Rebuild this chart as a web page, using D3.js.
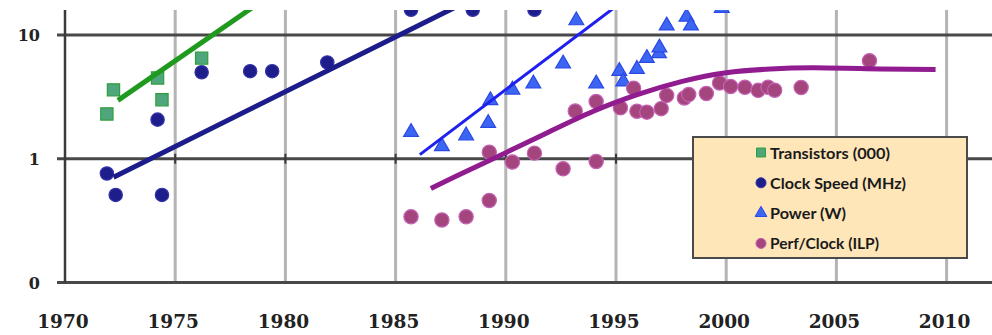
<!DOCTYPE html>
<html>
<head>
<meta charset="utf-8">
<script src="https://cdn.jsdelivr.net/npm/d3@7"></script>
<style>
  body { margin: 0; background: #fff; }
  .x-label { font-family: "DejaVu Serif", serif; font-weight: bold; font-size: 18.5px; fill: #222; }
  .y-label { font-family: "DejaVu Serif", serif; font-weight: bold; font-size: 16px; fill: #222; }
  .legend-text { font-family: Lato, "Open Sans", sans-serif; font-weight: bold; font-size: 16px; fill: #1a1a1a; }
</style>
</head>
<body>
<div id="chart"></div>
<script>
// axis ticks
const yearTicks = [1970, 1975, 1980, 1985, 1990, 1995, 2000, 2005, 2010];
const valueTicks = [0.1, 1, 10];
const valueTickLabels = ['0', '1', '10'];

// Transistors (000)
const transistorYears = [1971.9, 1972.2, 1974.2, 1974.4, 1976.2];
const transistorValues = [2.3, 3.6, 4.5, 3.0, 6.5];

// Clock Speed (MHz)
const clockYears = [1971.9, 1972.3, 1974.2, 1974.4, 1976.2, 1978.4, 1979.4, 1981.9, 1985.7, 1988.5, 1991.3];
const clockValues = [0.76, 0.51, 2.07, 0.51, 5.0, 5.1, 5.1, 6.0, 16, 16, 16];

// Power (W)
const powerYears = [1985.7, 1987.1, 1988.2, 1989.2, 1989.3, 1990.3, 1991.25, 1992.6, 1993.2, 1994.1,
    1995.15, 1995.33, 1995.95, 1996.4, 1996.95, 1996.97, 1997.3, 1998.2, 1998.4, 1999.8];
const powerValues = [1.64, 1.26, 1.54, 1.94, 2.96, 3.61, 4.04, 5.86, 13.1, 4.04,
    5.1, 4.2, 5.3, 6.5, 7.1, 7.9, 11.9, 14, 11.9, 16.5];

// Perf/Clock (ILP)
const perfYears = [1985.7, 1987.1, 1988.2, 1989.25, 1989.25, 1990.3, 1991.3, 1992.6, 1993.15, 1994.1,
    1994.1, 1995.2, 1995.8, 1995.95, 1996.4, 1997.05, 1997.3, 1998.1, 1998.3, 1999.1,
    1999.7, 2000.2, 2000.85, 2001.45, 2001.9, 2002.2, 2003.4, 2006.5];
const perfValues = [0.34, 0.32, 0.34, 0.46, 1.13, 0.94, 1.11, 0.83, 2.43, 0.95,
    2.9, 2.58, 3.72, 2.42, 2.38, 2.54, 3.25, 3.1, 3.3, 3.37,
    4.1, 3.84, 3.78, 3.57, 3.78, 3.58, 3.77, 6.2];

// trend lines
const transistorTrendYears = [1972.4, 1979];
const transistorTrendValues = [2.96, 19.2];
const clockTrendYears = [1972.2, 1988.5];
const clockTrendValues = [0.71, 19.7];
const powerTrendYears = [1986.1, 1995.5];
const powerTrendValues = [1.08, 19.9];
const perfTrendYears = [1986.6, 1988, 1990, 1992, 1994, 1996, 1998, 2000, 2002, 2004, 2007, 2009.5];
const perfTrendValues = [0.575, 0.76, 1.12, 1.66, 2.43, 3.31, 4.22, 4.96, 5.31, 5.43, 5.31, 5.25];

const legendLabels = ['Transistors (000)', 'Clock Speed (MHz)', 'Power (W)', 'Perf/Clock (ILP)'];

const zip = (xs, ys) => xs.map((x, i) => ({year: x, value: ys[i]}));

const width = 992, height = 335;
const margin = {top: 10, right: 0, bottom: 52.5, left: 65};

const svg = d3.select('#chart').append('svg')
    .attr('width', width)
    .attr('height', height);

const x = d3.scaleLinear()
    .domain([1970, 2012])
    .range([margin.left, margin.left + 42 * 22.04]);

// top of plot sits ~0.2 decade above 10
const y = d3.scaleLog()
    .domain([0.1, 15.92])
    .range([height - margin.bottom, margin.top]);

const plotBottom = y(0.1);

svg.append('defs').append('clipPath')
    .attr('id', 'plot-clip')
    .append('rect')
    .attr('x', margin.left)
    .attr('y', margin.top)
    .attr('width', width - margin.left)
    .attr('height', plotBottom - margin.top);

// vertical grid (light)
svg.append('g')
    .selectAll('line')
    .data(yearTicks.slice(1))
    .join('line')
    .attr('x1', d => x(d)).attr('x2', d => x(d))
    .attr('y1', margin.top).attr('y2', plotBottom)
    .attr('stroke', '#b4b4b4')
    .attr('stroke-width', 3);

// horizontal grid (dark), with the little outer tick on the left
svg.append('g')
    .selectAll('line')
    .data(valueTicks)
    .join('line')
    .attr('x1', margin.left - 8).attr('x2', width)
    .attr('y1', d => y(d)).attr('y2', d => y(d))
    .attr('stroke', '#484848')
    .attr('stroke-width', 3);

// left axis line
svg.append('line')
    .attr('x1', margin.left).attr('x2', margin.left)
    .attr('y1', margin.top).attr('y2', plotBottom)
    .attr('stroke', '#3a3a3a')
    .attr('stroke-width', 2.5);

// category axis crosses at 1: small cross ticks
svg.append('g')
    .selectAll('line')
    .data(yearTicks)
    .join('line')
    .attr('x1', d => x(d)).attr('x2', d => x(d))
    .attr('y1', y(1) - 5).attr('y2', y(1) + 5)
    .attr('stroke', '#3a3a3a')
    .attr('stroke-width', 2);

// tick labels
svg.append('g')
    .selectAll('text')
    .data(yearTicks)
    .join('text')
    .attr('class', 'x-label')
    .attr('x', d => x(d) - 2)
    .attr('y', 328)
    .attr('text-anchor', 'middle')
    .text(d => d);

svg.append('g')
    .selectAll('text')
    .data(valueTicks)
    .join('text')
    .attr('class', 'y-label')
    .attr('x', 40)
    .attr('y', d => y(d) + 6)
    .attr('text-anchor', 'end')
    .text((d, i) => valueTickLabels[i]);

const plot = svg.append('g').attr('clip-path', 'url(#plot-clip)');

// markers
const series = [
    {data: zip(transistorYears, transistorValues), shape: d3.symbolSquare, size: 150, fill: '#4fa67c', stroke: '#2f9e3a'},
    {data: zip(clockYears, clockValues), shape: d3.symbolCircle, size: 140, fill: '#1d1d8c', stroke: '#3434a8'},
    {data: zip(powerYears, powerValues), shape: d3.symbolTriangle, size: 95, fill: '#3c66f2', stroke: '#2a48e6'},
    {data: zip(perfYears, perfValues), shape: d3.symbolCircle, size: 160, fill: '#a4457e', stroke: '#c463b6'}
];

series.forEach(s => {
    plot.append('g')
        .selectAll('path')
        .data(s.data)
        .join('path')
        .attr('transform', d => `translate(${x(d.year)},${y(d.value)})`)
        .attr('d', d3.symbol().type(s.shape).size(s.size))
        .attr('fill', s.fill)
        .attr('stroke', s.stroke)
        .attr('stroke-width', 1.2);
});

// trend lines
const trends = [
    {data: zip(transistorTrendYears, transistorTrendValues), color: '#1f9a1f', w: 5, curve: d3.curveLinear},
    {data: zip(clockTrendYears, clockTrendValues), color: '#1c1c8a', w: 5, curve: d3.curveLinear},
    {data: zip(powerTrendYears, powerTrendValues), color: '#2020ee', w: 3, curve: d3.curveLinear},
    {data: zip(perfTrendYears, perfTrendValues), color: '#901c90', w: 5, curve: d3.curveNatural}
];

const line = d3.line().x(d => x(d.year)).y(d => y(d.value));

trends.forEach(t => {
    plot.append('path')
        .datum(t.data)
        .attr('d', line.curve(t.curve))
        .attr('fill', 'none')
        .attr('stroke', t.color)
        .attr('stroke-width', t.w);
});

// legend
const legend = svg.append('g').attr('transform', 'translate(693,137)');
legend.append('rect')
    .attr('width', 274)
    .attr('height', 121)
    .attr('fill', '#fee6b9')
    .attr('stroke', '#4a4a4a')
    .attr('stroke-width', 2);

const legendRows = legend.selectAll('g.row')
    .data(legendLabels)
    .join('g')
    .attr('class', 'row')
    .attr('transform', (d, i) => `translate(68,${15.5 + i * 30.3})`);

legendRows.append('path')
    .attr('d', (d, i) => d3.symbol().type(series[i].shape).size(i === 2 ? 60 : 80)())
    .attr('fill', (d, i) => series[i].fill)
    .attr('stroke', (d, i) => series[i].stroke)
    .attr('stroke-width', 1);

const legendWidths = [120, 136, 76, 109];
legendRows.append('text')
    .attr('class', 'legend-text')
    .attr('x', 9)
    .attr('y', 6)
    .attr('textLength', (d, i) => legendWidths[i])
    .attr('lengthAdjust', 'spacingAndGlyphs')
    .text(d => d);
</script>
</body>
</html>
